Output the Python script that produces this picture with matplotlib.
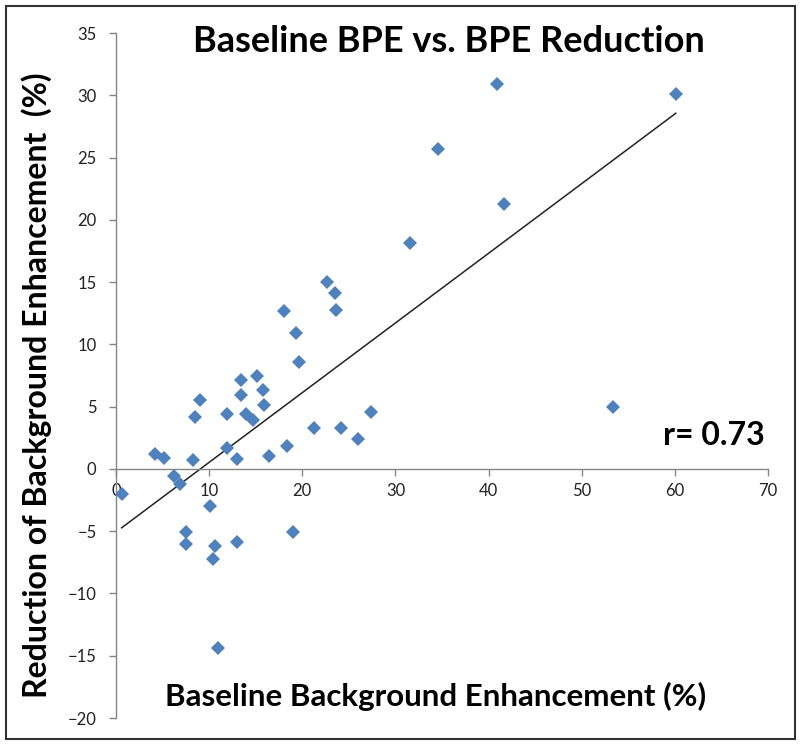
import numpy as np
import matplotlib
matplotlib.use("Agg")
import matplotlib.pyplot as plt
from matplotlib.patches import Rectangle

plt.rcParams["font.family"] = ["Lato", "DejaVu Sans"]

# baseline background enhancement (%) vs reduction (%)
baseline = [0.6, 4.2, 5.2, 6.2, 6.9, 8.3, 8.5, 9.0, 10.1, 7.5, 7.5, 10.6,
            10.45, 10.9, 13.0, 19.0, 11.9, 11.95, 13.0, 13.4, 13.4, 14.0,
            14.75, 15.1, 15.8, 15.9, 16.4, 18.4, 18.0, 19.3, 19.65, 21.3,
            22.6, 23.5, 23.6, 24.2, 26.0, 27.35, 31.6, 34.6, 40.9, 41.7,
            53.4, 60.1]
reduction = [-2.0, 1.2, 0.9, -0.6, -1.2, 0.7, 4.2, 5.5, -3.0, -5.1, -6.0,
             -6.2, -7.2, -14.4, -5.9, -5.1, 1.7, 4.4, 0.8, 7.1, 5.9, 4.4,
             3.9, 7.5, 6.3, 5.1, 1.0, 1.85, 12.7, 10.9, 8.6, 3.3, 15.0,
             14.1, 12.8, 3.3, 2.4, 4.6, 18.1, 25.7, 30.9, 21.3, 5.0, 30.1]
r_text = "r= 0.73"
x_ticks = list(range(0, 71, 10))
y_ticks = list(range(-20, 36, 5))

x = np.array(baseline)
y = np.array(reduction)
slope, icpt = np.polyfit(x, y, 1)
xl = np.array([x.min(), x.max()])

fig = plt.figure(figsize=(8, 7.45), dpi=100)
ax = fig.add_axes([0.145, 0.0362, 0.815, 0.9195])

ax.plot(xl, slope * xl + icpt, color="#222222", lw=1.1, zorder=2)
ax.plot(x, y, ls="none", marker="D", ms=7.6, mfc="#4F81BD", mec="#4F81BD",
        mew=0, zorder=3)

ax.set_xlim(0, 70); ax.set_ylim(-20, 35)
ax.set_xticks(x_ticks); ax.set_yticks(y_ticks)
for s in ("top", "right"):
    ax.spines[s].set_visible(False)
ax.spines["bottom"].set_position(("data", 0))
ax.spines["left"].set_position(("data", 0))
for s in ("bottom", "left"):
    ax.spines[s].set_color("#868686"); ax.spines[s].set_linewidth(1.0)
ax.tick_params(direction="out", length=5, width=1, color="#868686",
               labelsize=12, labelcolor="#222222")
ax.tick_params(axis="y", pad=9)
ax.tick_params(axis="x", pad=5)

ax.set_title("Baseline BPE vs. BPE Reduction", fontsize=26, fontweight="bold",
             x=0.51, y=0.96)
ax.text(0.995, 0.413, r_text, transform=ax.transAxes, ha="right", va="center",
        fontsize=23, fontweight="bold")
fig.text(0.544, 0.065, "Baseline Background Enhancement (%)", ha="center",
         va="center", fontsize=22.5, fontweight="bold")
fig.text(0.046, 0.483, "Reduction of Background Enhancement  (%)", ha="center",
         va="center", rotation=90, fontsize=23, fontweight="bold")

fig.patches.append(Rectangle((0.008, 0.008), 0.986, 0.984, transform=fig.transFigure,
                             fill=False, ec="#333333", lw=1.5))

fig.savefig("out.png", dpi=100)
plt.close(fig)
